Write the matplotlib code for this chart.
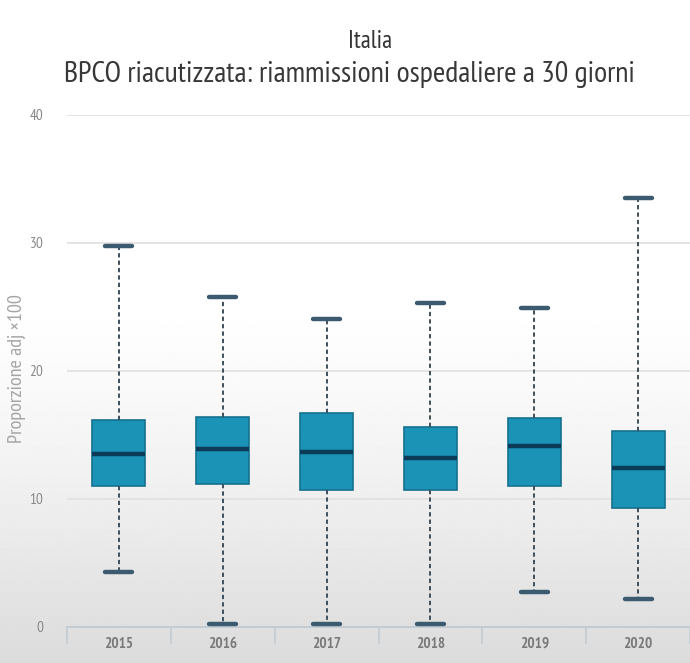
import numpy as np
import matplotlib
matplotlib.use("Agg")
import matplotlib.pyplot as plt
from matplotlib import font_manager

# Data: annual distribution of adjusted 30-day readmission proportion
years = ["2015", "2016", "2017", "2018", "2019", "2020"]
whisker_low = [4.3, 0.2, 0.2, 0.2, 2.7, 2.2]
q1 = [11.0, 11.2, 10.7, 10.7, 11.0, 9.3]
median = [13.5, 13.9, 13.65, 13.2, 14.15, 12.4]
q3 = [16.2, 16.4, 16.75, 15.6, 16.35, 15.35]
whisker_high = [29.8, 25.8, 24.05, 25.3, 24.95, 33.5]
y_ticks = [0, 10, 20, 30, 40]

title = "Italia"
subtitle = "BPCO riacutizzata: riammissioni ospedaliere a 30 giorni"
y_label = "Proporzione adj ×100"

available = {f.name for f in font_manager.fontManager.ttflist}
candidates = ["PT Sans Narrow", "Fira Sans Condensed", "Asap Condensed",
              "Roboto Condensed", "Open Sans"]
family = next((c for c in candidates if c in available), "DejaVu Sans")
plt.rcParams["font.family"] = [family, "DejaVu Sans"]

W, H = 690, 663
fig = plt.figure(figsize=(W / 100, H / 100), dpi=100)
renderer = fig.canvas.get_renderer()

# soft grey fade towards the bottom of the canvas
bg = fig.add_axes([0, 0, 1, 1], zorder=-10)
rows = np.linspace(0, 1, 400)
shade = np.where(rows < 0.45, 1.0, 1.0 - 0.14 * ((rows - 0.45) / 0.55) ** 1.3)
img = np.repeat(shade[:, None], 2, axis=1)
bg.imshow(img, cmap="gray", vmin=0, vmax=1, aspect="auto", extent=[0, 1, 1, 0])
bg.set_axis_off()

ax = fig.add_axes([67 / W, 1 - 627 / H, 1 - 67 / W, (627 - 115) / H])
ax.patch.set_alpha(0)

stats = []
for i, y in enumerate(years):
    stats.append(dict(label=y, whislo=whisker_low[i], q1=q1[i], med=median[i],
                      q3=q3[i], whishi=whisker_high[i], fliers=[]))

ax.bxp(stats, positions=np.arange(len(years)), widths=0.51, patch_artist=True,
       showfliers=False, capwidths=0.26,
       boxprops=dict(facecolor="#1a93b6", edgecolor="#16718f", linewidth=1.2),
       medianprops=dict(color="#0c3b57", linewidth=3.2, solid_capstyle="butt"),
       whiskerprops=dict(color="#3e4f5c", linewidth=1.4, linestyle=(0, (2.2, 1.6))),
       capprops=dict(color="#3d5b70", linewidth=3.2, solid_capstyle="round"),
       zorder=3)

ax.set_xlim(-0.5, 5.46)
ax.set_ylim(0, 40)
ax.set_yticks(y_ticks)
ax.set_yticklabels([str(v) for v in y_ticks], color="#8a8a8a", fontsize=11)
ax.tick_params(axis="y", length=0, pad=17)

for v in y_ticks[1:]:
    ax.axhline(v, color="#e2e2e2", linewidth=1.3, zorder=1)

ax.set_xticks(np.arange(len(years)))
ax.set_xticklabels(years, color="#7a7a7a", fontsize=11, fontweight="bold")
ax.tick_params(axis="x", length=0, pad=7)
ax.set_xticks(np.arange(len(years) + 1) - 0.5, minor=True)
ax.tick_params(axis="x", which="minor", length=12, color="#c3ccd3", width=1.2)

for s in ["top", "right", "left"]:
    ax.spines[s].set_visible(False)
ax.spines["bottom"].set_color("#c3ccd3")
ax.spines["bottom"].set_linewidth(1.4)

fig.text(17 / W, 1 - 369 / H, y_label, rotation=90, ha="center", va="center",
         color="#a5a5a5", fontsize=14.5)
fig.text(370 / W, 1 - 42 / H, title, ha="center", va="center",
         color="#333333", fontsize=18)

# subtitle scaled so it spans the width above the plot
sub = fig.text(349 / W, 1 - 75 / H, subtitle, ha="center", va="center",
               color="#383838", fontsize=16)
span = sub.get_window_extent(renderer).width
sub.set_fontsize(16 * 574 / span)

fig.savefig("out.png", dpi=100)
